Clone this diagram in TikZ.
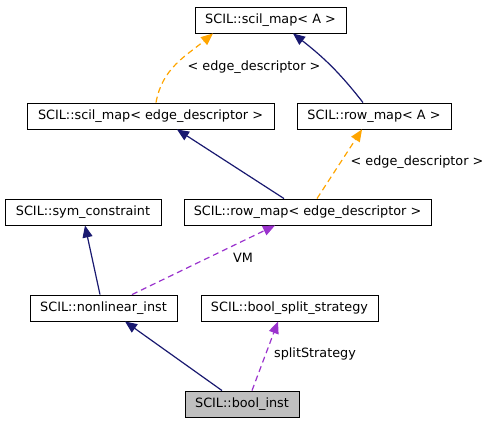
\documentclass[tikz,border=0pt]{standalone}
\usepackage{fontspec}
\setmainfont{DejaVu Sans}
\usetikzlibrary{arrows.meta,positioning}
\definecolor{navy}{HTML}{191970}
\definecolor{orng}{HTML}{FFA500}
\definecolor{purp}{HTML}{9A32CD}
\tikzset{
	cls/.style={draw=black,line width=0.9pt,inner sep=0pt,minimum height=26pt,font=\fontsize{12.8}{14}\selectfont},
	inh/.style={draw=navy,line width=1.2pt,-{Triangle[length=12pt,width=10pt]}},
	tpl/.style={draw=orng,line width=1.2pt,dash pattern=on 6pt off 4pt,-{Triangle[length=12pt,width=10pt]}},
	use/.style={draw=purp,line width=1.2pt,dash pattern=on 6pt off 4pt,-{Triangle[length=12pt,width=10pt]}},
	lbl/.style={font=\fontsize{12.8}{14}\selectfont}
}
\begin{document}
\begin{tikzpicture}[x=1pt,y=-1pt]
	\useasboundingbox (0,0) rectangle (489,424);
	% classes
	\node[cls,minimum width=151pt] (smA) at (270.5,20) {SCIL::scil\_map< A >};
	\node[cls,minimum width=247pt] (smE) at (150.5,116) {SCIL::scil\_map< edge\_descriptor >};
	\node[cls,minimum width=154pt] (rmA) at (374,116) {SCIL::row\_map< A >};
	\node[cls,minimum width=156pt] (sym) at (83,212) {SCIL::sym\_constraint};
	\node[cls,minimum width=247pt] (rmE) at (307.5,212) {SCIL::row\_map< edge\_descriptor >};
	\node[cls,minimum width=147pt] (nli) at (103.5,308) {SCIL::nonlinear\_inst};
	\node[cls,minimum width=177pt] (bss) at (289.5,308) {SCIL::bool\_split\_strategy};
	\node[cls,minimum width=114pt,fill=black!25] (bi) at (242,404) {SCIL::bool\_inst};
	% edges
	\draw[tpl] ([xshift=5.5pt]smE.north) to[out=80,in=-140] ([xshift=-57.5pt]smA.south);
	\node[lbl] (l1) at (254,67) {< edge\_descriptor >};
	\draw[inh] ([xshift=-11pt]rmA.north) to[out=128,in=-38] ([xshift=22.5pt]smA.south);
	\draw[inh] ([xshift=-23.5pt]rmE.north) to ([xshift=26.5pt]smE.south);
	\draw[tpl] ([xshift=9.5pt]rmE.north) to ([xshift=-12pt]rmA.south);
	\node[lbl] (l2) at (417,162) {< edge\_descriptor >};
	\draw[inh] ([xshift=-3.5pt]nli.north) to ([xshift=2pt]sym.south);
	\draw[use] ([xshift=28.5pt]nli.north) to ([xshift=-32.5pt]rmE.south);
	\node[lbl] (l3) at (243,258) {VM};
	\draw[inh] ([xshift=-20pt]bi.north) to ([xshift=21.5pt]nli.south);
	\draw[use] ([xshift=10pt]bi.north) to ([xshift=-11.5pt]bss.south);
	\node[lbl] (l4) at (315,354) {splitStrategy};
\end{tikzpicture}
\end{document}
